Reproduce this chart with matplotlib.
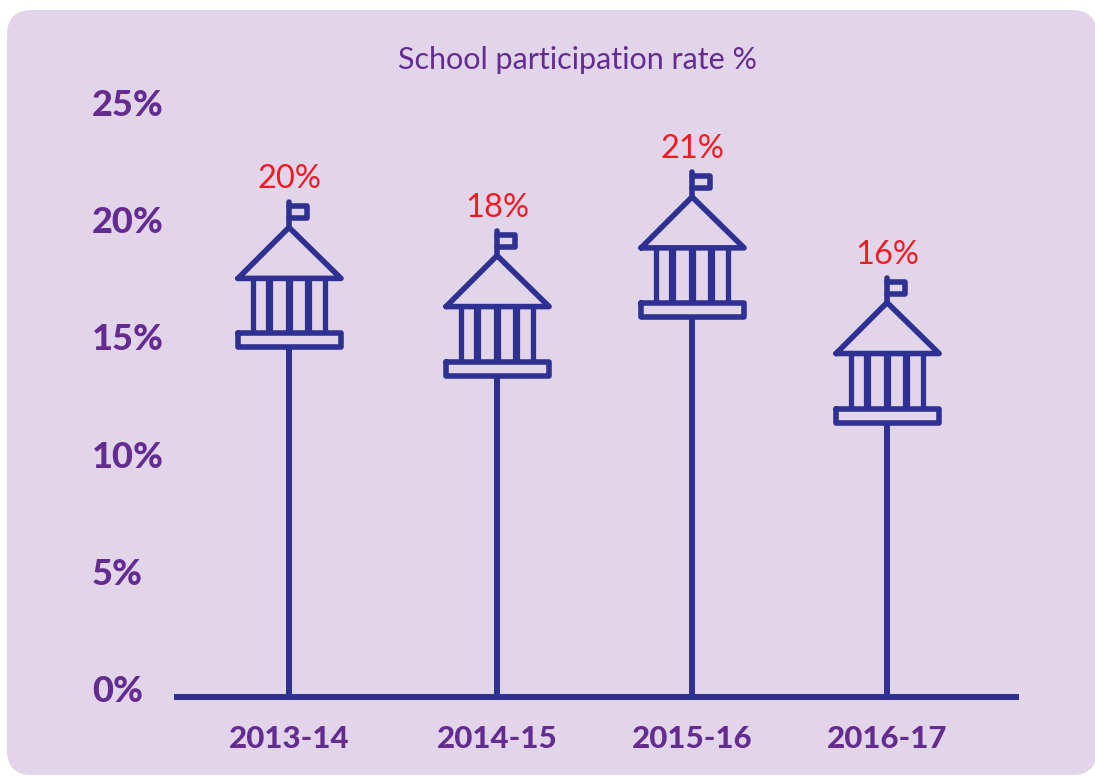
import matplotlib.pyplot as plt
from matplotlib.patches import FancyBboxPatch
from matplotlib.transforms import ScaledTranslation

plt.rcParams['font.family'] = ['Lato', 'DejaVu Sans']

# data
years = ['2013-14', '2014-15', '2015-16', '2016-17']
rate_labels = ['20%', '18%', '21%', '16%']
# roof tip heights (the drawn icons sit above the printed rates)
roof_tip = [20.0, 18.8, 21.3, 16.8]
year_pos = [0, 1.067, 2.067, 3.067]
y_ticks = [0, 5, 10, 15, 20, 25]
y_labels = ['0%', '5%', '10%', '15%', '20%', '25%']

PANEL = '#E2D5EA'
NAVY = '#2E3192'
PURPLE = '#642C91'
RED = '#ED1C24'

W, H = 1095, 776
X_UNIT = 195.0          # pixels per year step
Y_UNIT = 587 / 25.0     # pixels per percent

fig = plt.figure(figsize=(W / 100, H / 100), dpi=100)

# rounded panel behind the chart
bg = fig.add_axes([0, 0, 1, 1])
bg.set_xlim(0, W)
bg.set_ylim(H, 0)
bg.axis('off')
bg.add_patch(FancyBboxPatch((32, 35), 1040, 715, boxstyle='round,pad=25,rounding_size=25',
                            fc=PANEL, ec='none'))

ax = fig.add_axes([174 / W, (H - 697) / H, (1019 - 174) / W, 587 / H])
ax.patch.set_alpha(0)
ax.set_xlim(-115 / X_UNIT, 730 / X_UNIT)
ax.set_ylim(0, 25)
for s in ['top', 'left', 'right']:
    ax.spines[s].set_visible(False)
ax.spines['bottom'].set_linewidth(4.3)
ax.spines['bottom'].set_color(NAVY)
ax.spines['bottom'].set_capstyle('butt')

ax.set_xticks(year_pos, years, color=PURPLE, fontsize=22.5, fontweight='black')
ax.tick_params(axis='x', length=0, pad=20)
ax.set_yticks(y_ticks, y_labels, color=PURPLE, fontsize=26, fontweight='black')
ax.tick_params(axis='y', length=0, pad=59)
up = ScaledTranslation(0, 8 / 100, fig.dpi_scale_trans)
for lab in ax.get_yticklabels():
    lab.set_ha('left')
    lab.set_transform(lab.get_transform() + up)


def stroke(x0, y0, xs, ys, lw=4.0, cap='round'):
    # xs, ys are pixel offsets from the roof tip (y downwards)
    ax.plot([x0 + v / X_UNIT for v in xs], [y0 - v / Y_UNIT for v in ys], color=NAVY,
            lw=lw, solid_capstyle=cap, solid_joinstyle='round', clip_on=False)


for x, tip, lab in zip(year_pos, roof_tip, rate_labels):
    # pole below the base and flag pole above the tip
    ax.plot([x, x], [0, tip - 121 / Y_UNIT], color=NAVY, lw=4.3, solid_capstyle='butt')
    stroke(x, tip, [0, 0], [0, -25])
    # flag
    stroke(x, tip, [0, 18, 18, 0], [-21, -21, -9, -9])
    # roof
    stroke(x, tip, [-51, 0, 52, -51], [51, 0, 51, 51])
    # columns
    for dx, lw in zip([-36, -20, 0, 19, 36], [3.8, 5.2, 5.2, 5.2, 3.8]):
        stroke(x, tip, [dx, dx], [51, 106], lw=lw, cap='butt')
    # base
    stroke(x, tip, [-51, 52, 52, -51, -51], [106, 106, 120, 120, 106])
    ax.text(x, tip + 48 / Y_UNIT, lab, color=RED, fontsize=23.5, ha='center', va='center')

fig.text(577 / W, 1 - 60 / H, 'School participation rate %', color=PURPLE, fontsize=22,
         ha='center', va='center')

fig.savefig('out.png', dpi=100)
